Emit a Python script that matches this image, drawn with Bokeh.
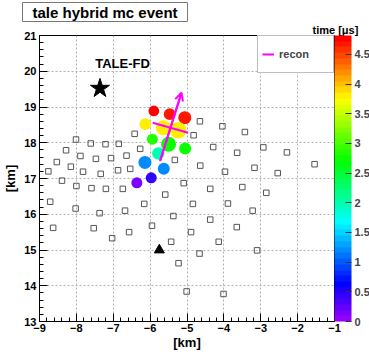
import colorsys
from bokeh.plotting import figure
from bokeh.models import (ColumnDataSource, LinearColorMapper, ColorBar, FixedTicker,
                          SingleIntervalTicker, Title, Legend, LegendItem, Arrow, OpenHead,
                          CustomJSTickFormatter, Range1d)
from bokeh.core.properties import value
from bokeh.embed import file_html
from bokeh.resources import INLINE

FONT = "Liberation Sans"

# ---------------- data ----------------
title_text = "tale hybrid mc event"
x_label = "[km]"
y_label = "[km]"
cbar_title = "time [\u03bcs]"
x_min, x_max = -9, -1
y_min, y_max = 13, 21
t_min, t_max = 0.0, 4.82
cbar_ticks = [0, 0.5, 1, 1.5, 2, 2.5, 3, 3.5, 4, 4.5]

# surface detectors (open squares)
det_x = [-6.42, -8.01, -7.61, -7.21, -6.85, -6.27, -8.28, -7.89, -7.47, -7.06,
         -6.64, -8.53, -8.15, -5.33, -8.76, -7.82, -7.34, -6.87, -6.54, -4.82,
         -3.43, -4.65, -4.04, -4.29, -3.64, -2.93, -2.29, -4.64, -3.97, -3.17,
         -2.54, -1.54, -8.39, -8.00, -7.59, -7.20, -6.74, -5.09, -4.37, -3.50,
         -2.85, -8.71, -8.02, -7.37, -6.68, -6.16, -5.59, -4.84, -3.89, -3.22,
         -5.37, -4.37, -3.65, -8.63, -7.53, -5.95, -6.57, -7.03, -4.89, -5.43,
         -4.14, -3.10, -4.66, -5.23, -5.01, -4.01]
det_y = [18.25, 18.09, 17.98, 17.96, 17.97, 17.83, 17.79, 17.63, 17.55, 17.57,
         17.64, 17.46, 17.33, 17.52, 17.20, 17.19, 17.13, 17.23, 17.27, 18.21,
         18.30, 18.60, 18.46, 17.88, 17.72, 17.87, 17.73, 17.36, 17.19, 17.30,
         17.15, 17.40, 16.94, 16.79, 16.73, 16.71, 16.71, 16.87, 16.71, 16.76,
         16.60, 16.35, 16.16, 16.03, 16.10, 16.29, 16.55, 16.29, 16.30, 16.10,
         15.95, 15.85, 15.64, 15.62, 15.61, 15.68, 15.50, 15.33, 15.50, 15.23,
         15.23, 14.99, 14.90, 14.63, 13.84, 13.77]

# hit detectors (filled circles)
hit_x = [-5.90, -5.47, -5.06, -6.13, -5.64, -5.24, -5.94, -5.50, -5.05, -5.78,
         -6.14, -5.63, -5.97, -6.36]
hit_y = [18.89, 18.80, 18.70, 18.52, 18.42, 18.35, 18.10, 17.96, 17.84, 17.70,
         17.45, 17.27, 17.02, 16.88]
hit_t = [4.75, 4.70, 4.65, 3.78, 3.82, 3.84, 2.82, 2.76, 2.74, 1.95,
         1.22, 1.17, 0.48, 0.14]
hit_signal = [7.2, 8.6, 10.6, 8.6, 14.1, 17.4, 7.6, 14.1, 9.0, 9.5,
              10.6, 9.0, 7.6, 7.6]

# reconstructed shower axis
recon_x = [-5.73, -5.15]
recon_y = [17.49, 19.40]
cross_x = [-5.93, -4.97]
cross_y = [18.56, 18.28]

fd_name = "TALE-FD"
fd_x, fd_y = -7.36, 19.52
fd_label_x, fd_label_y = -6.75, 20.23
clf_x, clf_y = -5.75, 15.00

# ---------------- palette (ROOT pretty palette, violet -> red) ----------------
palette = []
for i in range(50):
    h = 280.0 - (i + 1) * 280.0 / 50
    r, g, b = colorsys.hls_to_rgb(h / 360.0, 0.5, 1.0)
    palette.append("#%02x%02x%02x" % (int(round(r * 255)), int(round(g * 255)), int(round(b * 255))))

mapper = LinearColorMapper(palette=palette, low=t_min, high=t_max)

# ---------------- figure ----------------
p = figure(frame_width=295, frame_height=286,
           min_border_left=29, min_border_right=37, min_border_top=30, min_border_bottom=30,
           x_range=Range1d(x_min, x_max), y_range=Range1d(y_min, y_max),
           output_backend="svg", toolbar_location=None)
p.background_fill_color = "white"
p.border_fill_color = "white"
p.outline_line_color = "black"
p.outline_line_width = 1

# main title (boxed, top-left)
p.title.text = title_text
p.title.align = "left"
p.title.offset = -17
p.title.standoff = 0
p.title.text_font = FONT
p.title.text_font_style = "bold"
p.title.text_font_size = "15px"
p.title.text_color = "black"
p.title.border_line_color = "#777777"
p.title.border_line_width = 1
p.title.background_fill_color = "white"
p.title.padding = (10, 1)

# colour-bar title
p.add_layout(Title(text=cbar_title, align="left", offset=273, standoff=0,
                   text_font=FONT, text_font_style="bold", text_font_size="11px",
                   text_color="black"), "above")

p.xaxis.ticker = SingleIntervalTicker(interval=1, num_minor_ticks=5)
p.yaxis.ticker = SingleIntervalTicker(interval=1, num_minor_ticks=5)
p.xaxis.axis_label = x_label
p.yaxis.axis_label = y_label
for ax in (p.xaxis[0], p.yaxis[0]):
    ax.major_tick_in = 8
    ax.major_tick_out = 0
    ax.minor_tick_in = 4
    ax.minor_tick_out = 0
    ax.axis_line_color = "black"
    ax.major_tick_line_color = "black"
    ax.minor_tick_line_color = "black"
    ax.major_label_text_font = FONT
    ax.major_label_text_font_style = "bold"
    ax.major_label_text_font_size = "11px"
    ax.major_label_text_color = "black"
    ax.axis_label_text_font = FONT
    ax.axis_label_text_font_style = "bold"
    ax.axis_label_text_font_size = "13px"
    ax.axis_label_text_color = "black"
p.xaxis.major_label_standoff = 2
p.xaxis.axis_label_standoff = 0
p.yaxis.major_label_standoff = 3
p.yaxis.axis_label_standoff = 3

p.grid.grid_line_color = "#b0b0b0"
p.grid.grid_line_dash = "2 2"
p.grid.grid_line_width = 1

# detectors
p.scatter(x=det_x, y=det_y, marker="square", size=5.5, fill_color=None,
          line_color="#555555", line_width=1)

# hits
hit_src = ColumnDataSource(dict(x=hit_x, y=hit_y, t=hit_t,
                                size=[4.0 * s ** 0.5 for s in hit_signal]))
p.scatter(x="x", y="y", size="size", source=hit_src, marker="circle",
          fill_color={"field": "t", "transform": mapper}, line_color=None)

# recon axis
recon_r = p.line(x=recon_x, y=recon_y, line_color="#ff00ff", line_width=2)
p.segment(x0=[cross_x[0]], y0=[cross_y[0]], x1=[cross_x[1]], y1=[cross_y[1]],
          line_color="#ff00ff", line_width=2)
p.add_layout(Arrow(end=OpenHead(size=8, line_color="#ff00ff", line_width=2),
                   x_start=recon_x[0], y_start=recon_y[0], x_end=recon_x[1], y_end=recon_y[1],
                   line_color="#ff00ff", line_width=2))

# FD and CLF markers
p.scatter(x=[fd_x], y=[fd_y], marker="star", size=20, fill_color="black", line_color="black")
p.scatter(x=[clf_x], y=[clf_y], marker="triangle", size=10, fill_color="black", line_color="black")
p.text(x=[fd_label_x], y=[fd_label_y], text=[fd_name], text_font=value(FONT),
       text_font_style="bold", text_font_size="13px", text_align="center",
       text_baseline="middle", text_color="black")

# legend
legend = Legend(items=[LegendItem(label="recon", renderers=[recon_r])],
                location="top_right", margin=0, padding=4, glyph_width=12, glyph_height=28,
                label_height=28, label_width=50, label_standoff=5,
                label_text_font=FONT, label_text_font_style="bold", label_text_font_size="11px",
                border_line_color="#808080", border_line_width=1,
                background_fill_color="white", background_fill_alpha=1.0)
p.add_layout(legend)

# color bar
cb = ColorBar(color_mapper=mapper, ticker=FixedTicker(ticks=cbar_ticks),
              formatter=CustomJSTickFormatter(code="return String(tick);"),
              width=17, padding=0, margin=0, label_standoff=3,
              major_label_text_font=FONT, major_label_text_font_style="bold",
              major_label_text_font_size="11px",
              major_tick_line_color="#333333", major_tick_in=6, major_tick_out=0,
              minor_tick_line_color=None, bar_line_color=None, border_line_color=None,
              background_fill_alpha=0)
p.add_layout(cb, "right")

open("out.html", "w").write(file_html(p, INLINE))
